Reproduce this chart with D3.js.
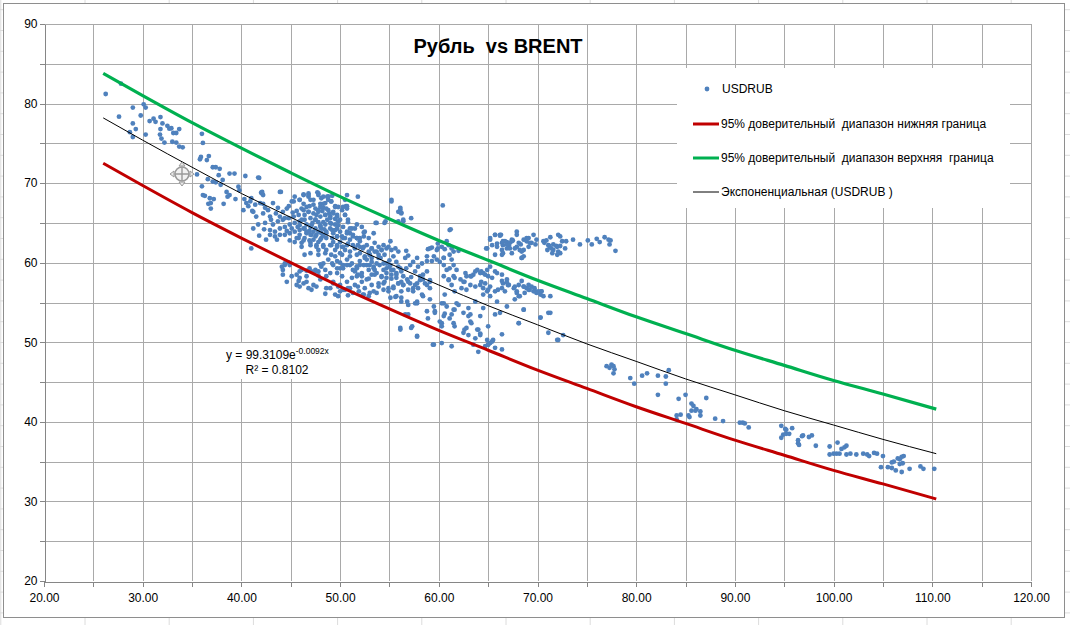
<!DOCTYPE html>
<html><head><meta charset="utf-8">
<script src="https://cdn.jsdelivr.net/npm/d3@7"></script>
<style>
html,body{margin:0;padding:0;background:#fff;}
svg{display:block;}
text{font-family:"Liberation Sans",Arial,sans-serif;fill:#000;white-space:pre;}
</style></head><body>
<svg id="chart" width="1070" height="625"></svg>
<script>
const chartTitle = "Рубль  vs BRENT";
const seriesNames = ["USDRUB", "95% доверительный  диапазон нижняя граница", "95% доверительный  диапазон верхняя  граница", "Экспоненциальная (USDRUB )"];
const xTickValues = [20, 30, 40, 50, 60, 70, 80, 90, 100, 110, 120];
const xTickLabels = ["20.00", "30.00", "40.00", "50.00", "60.00", "70.00", "80.00", "90.00", "100.00", "110.00", "120.00"];
const yTickValues = [20, 30, 40, 50, 60, 70, 80, 90];
const yTickLabels = ["20", "30", "40", "50", "60", "70", "80", "90"];
const gridStep = 5;

// band / trend series (BRENT -> USDRUB)
const lineBrent  = [26, 30, 35, 40, 45, 50, 55, 60, 65, 70, 75, 80, 85, 90, 95, 100, 105, 110.4];
const lowerBound = [72.5, 69.7, 66.3, 63.1, 60.0, 57.0, 54.2, 51.5, 49.0, 46.5, 44.2, 41.9, 39.8, 37.7, 35.8, 33.9, 32.2, 30.3];
const upperBound = [83.8, 81.0, 77.6, 74.4, 71.3, 68.3, 65.5, 62.8, 60.3, 57.8, 55.5, 53.2, 51.1, 49.0, 47.1, 45.2, 43.5, 41.6];
const trendLine  = [78.2, 75.4, 72.0, 68.7, 65.7, 62.7, 59.9, 57.2, 54.6, 52.2, 49.8, 47.6, 45.4, 43.4, 41.4, 39.6, 37.8, 36.0];
const trendEquation = "y = 99.3109e";
const trendExponent = "-0.0092x";
const trendR2 = "R² = 0.8102";

// USDRUB vs BRENT points
const ptsEarly = [[26.25,81.2],[27.8,82.5],[27.6,78.35],[29.0,79.5],[30.1,79.9],[30.3,79.5],[29.8,78.5],[29.0,77.5],[29.3,76.8],[28.7,76.4],[29.0,75.8],[30.7,77.8],[31.1,78.1],[31.3,77.7],[31.8,78.3],[32.0,77.5],[30.3,76.1],[31.8,76.8],[31.75,76.1],[31.9,75.6],[32.5,77.2],[32.7,76.85],[32.9,76.9],[33.4,76.3],[33.7,76.8],[33.1,76.3],[33.0,75.2],[33.4,75.1],[33.7,74.6],[34.05,74.5],[32.2,75.1],[36.0,76.2],[36.1,75.05],[35.9,73.3],[35.8,73.0],[36.5,72.9],[36.7,73.4],[37.1,72.0],[37.4,72.0],[37.8,71.8],[38.8,71.2],[39.3,71.2],[40.4,70.9],[41.8,70.65],[36.6,70.5],[37.1,70.2],[37.4,70.1],[37.9,69.8],[36.0,69.6],[36.3,68.4],[36.65,67.4],[36.1,68.5],[38.5,68.9],[38.6,68.3],[38.8,68.5],[39.7,69.55],[39.8,69.1],[39.4,68.0],[38.2,67.4],[36.8,68.1],[37.2,68.0],[40.3,68.0],[40.5,67.5],[40.7,67.1],[40.2,66.6],[41.1,66.5],[42.0,68.8],[42.2,67.4],[44.0,68.9],[46.3,68.6],[46.8,68.5],[47.7,68.85],[48.7,68.3],[49.2,68.4],[50.6,67.1],[51.8,68.3],[53.6,65.0],[54.5,65.0],[35.5,71.1],[36.9,67.5],[36.9,66.8],[37.7,71.0],[38.1,70.4]];
const ptsUpperCluster = [[41.7,70.7],[42.1,68.7],[41.0,68.1],[40.9,67.7],[41.4,67.3],[41.9,67.5],[42.4,66.9],[41.2,66.4],[41.5,65.8],[42.2,66.2],[42.7,66.6],[42.9,65.8],[42.4,65.0],[41.7,64.8],[41.2,64.3],[41.0,61.8],[43.2,67.5],[43.7,66.9],[44.2,66.4],[44.8,67.1],[45.1,67.7],[45.4,68.3],[45.9,67.9],[47.0,67.9],[47.3,67.3],[47.8,68.7],[48.1,68.1],[48.5,67.5],[48.8,68.3],[49.1,67.7],[49.5,67.1],[48.8,66.6],[48.3,66.9],[47.8,66.4],[47.3,66.2],[46.8,66.4],[46.3,66.6],[45.8,66.0],[45.3,65.8],[44.8,65.6],[44.2,65.4],[43.7,65.2],[43.2,64.8],[42.9,64.1],[43.4,63.9],[43.9,64.3],[44.4,64.5],[44.9,64.8],[45.4,65.0],[45.9,65.2],[46.4,65.4],[47.0,65.6],[47.5,65.4],[48.0,65.8],[48.5,66.0],[49.0,65.8],[49.3,66.2],[49.7,65.8],[49.8,65.2],[49.5,64.8],[49.0,65.0],[48.5,64.8],[48.0,64.5],[47.5,64.3],[47.0,64.5],[46.4,64.3],[45.9,64.1],[45.4,63.9],[44.9,63.7],[44.4,63.5],[43.9,63.5],[43.4,63.3],[42.9,63.5],[46.6,63.7],[47.1,63.5],[47.6,63.5],[48.1,63.7],[48.6,63.9],[49.2,64.1],[49.7,64.3],[50.0,63.9],[50.3,64.5],[50.7,63.9],[50.2,63.3],[49.7,63.3],[49.2,63.1],[48.6,63.1],[48.0,62.9],[47.3,62.9],[46.4,63.1],[45.8,63.1],[50.5,63.1],[51.0,62.9],[50.7,62.2],[50.2,62.0],[49.7,62.2],[49.0,62.2],[48.3,62.2],[47.6,62.2],[47.0,62.5],[46.1,62.5],[51.3,63.5],[51.7,63.1],[52.0,62.7],[52.4,63.3],[52.5,63.9],[52.2,64.5],[51.7,64.8],[51.2,64.3],[50.8,65.4],[50.5,66.0],[50.2,66.6],[50.7,67.1],[50.7,68.5],[51.0,63.7],[52.7,62.2],[53.2,61.8],[52.9,61.4],[52.4,62.0],[51.5,61.8],[51.0,61.4],[50.5,61.6],[50.0,61.2],[49.5,61.6],[48.6,61.6],[47.8,61.6],[52.0,61.2],[52.5,60.8],[53.0,61.0],[53.5,61.4],[53.7,65.0],[54.6,65.2],[55.2,67.9],[56.1,66.9],[56.4,65.4],[56.2,66.2],[55.9,66.4],[53.5,62.5],[53.9,62.0],[54.2,61.6],[54.7,61.8],[54.4,62.2],[55.1,62.7],[55.2,61.6],
[45.9,67.9],[46.3,67.4],[46.6,67.0],[46.8,66.4],[46.4,66.0],[46.1,65.4],[45.9,64.7],[46.3,64.3],[46.6,63.9],[45.9,63.5],[45.6,63.1],[46.3,62.8],[47.0,63.5],[47.3,63.9],[47.1,64.7],[47.5,65.4],[47.6,66.0],[47.8,66.6],[48.0,67.0],[48.3,67.4],[48.8,67.9],[48.6,66.8],[48.5,66.0],[48.3,65.1],[48.0,64.7],[48.1,64.3],[47.8,63.9],[47.5,63.3],[47.8,62.6],[48.1,63.1],[48.6,63.7],[49.0,64.3],[49.1,64.9],[49.0,65.6],[49.3,66.4],[49.5,67.0],[49.7,66.0],[50.0,65.4],[49.8,64.7],[49.5,64.1],[49.7,63.3],[49.3,62.6],[50.0,62.6],[50.3,63.1],[50.7,63.7],[51.0,64.3],[50.8,65.1],[50.5,66.0],[50.7,66.8],[51.3,63.3],[51.7,63.1],[51.5,64.3],[51.8,62.2],[51.3,62.2],[50.8,62.4],[50.3,62.0],[49.7,62.0],[49.1,62.2],[48.3,62.0],[47.6,62.0],[47.0,62.2],[46.1,62.0],[45.4,62.6],[44.9,62.8],[44.4,65.6],[43.9,65.8],[46.3,68.5],[46.8,68.7],[47.3,67.9],[47.8,68.5],[48.0,67.4],[48.3,68.3],[48.8,68.3],[49.1,67.7],[49.8,67.0],[50.3,67.0],[50.5,67.9],[42.2,68.5],[42.1,68.9],[43.9,68.9],[46.8,68.3],[45.3,67.7],[46.4,61.0],[47.0,61.2],[47.8,61.0],[48.5,61.2],[49.1,61.0],
[45.6,66.5],[46.1,66.8],[46.9,67.1],[47.5,66.8],[48.2,66.5],[48.9,66.2],[49.5,65.5],[48.7,65.4],[47.8,65.1],[47.2,65.0],[46.6,64.8],[45.7,64.5],[45.1,64.3],[44.6,64.0],[46.9,64.0],[48.4,64.2],[49.3,63.7],[48.3,63.4],[46.9,62.8],[45.2,66.3],[44.6,66.8],[43.5,66.2],[43.0,65.4],[42.3,64.2],[41.8,63.4],[42.5,62.9],[43.6,62.9]];
const ptsLowerBand = [[44.1,59.5],[44.2,59.1],[44.4,59.9],[44.9,59.7],[45.9,58.1],[46.3,57.4],[46.8,56.8],[47.1,58.9],[47.5,59.1],[47.8,58.9],[48.1,59.5],[48.3,59.9],[48.8,60.4],[49.2,59.9],[49.7,60.2],[50.0,59.3],[50.3,59.7],[50.7,60.4],[51.0,59.7],[51.3,59.1],[51.7,59.5],[52.0,60.2],[52.4,59.7],[52.7,60.4],[53.0,59.7],[53.4,59.3],[53.7,59.9],[54.1,60.6],[54.4,59.9],[54.7,59.3],[55.1,59.7],[55.4,59.1],[55.7,58.7],[56.1,59.3],[56.4,58.3],[56.8,57.9],[57.1,57.4],[57.4,56.8],[57.8,57.4],[58.1,58.3],[58.4,57.9],[58.8,57.2],[59.1,57.6],[49.3,57.4],[49.8,57.0],[50.3,56.6],[50.8,56.8],[51.3,56.2],[51.9,56.4],[52.4,56.0],[52.9,55.8],[53.4,56.4],[53.9,57.0],[54.4,57.4],[54.9,56.8],[55.4,57.0],[55.9,57.4],[56.4,57.2],[49.0,56.8],[49.5,56.0],[49.8,55.8],[50.7,57.6],[51.2,58.1],[51.7,58.3],[52.2,58.3],[52.7,57.9],[53.2,58.5],[53.7,58.7],[54.2,58.3],[54.7,58.1],[55.2,58.5],[55.7,58.1],[56.2,57.6],[49.7,58.7],[50.2,58.3],[48.6,58.3],[48.0,57.9],[47.6,57.0],[47.1,56.6],[46.6,58.3],[46.1,59.1],[45.6,58.5],[45.1,58.3],[44.6,57.6],[49.5,60.8],[50.2,61.0],[51.0,60.8],[51.7,61.0],[53.2,60.6],[53.9,61.0],
[45.9,58.9],[45.6,57.2],[45.8,57.7],[46.6,59.0],[46.9,59.3],[47.5,58.9],[47.8,58.4],[48.0,59.8],[48.5,59.1],[49.0,58.7],[49.3,59.7],[49.7,59.3],[50.0,60.0],[50.3,59.3],[50.7,59.7],[51.2,59.9],[51.5,58.9],[51.7,59.5],[49.3,57.6],[50.0,57.2],[50.5,56.6],[51.0,56.8],[51.5,57.2],[50.0,56.4],[50.8,55.9],[48.6,56.8],[48.5,56.1],[47.3,57.2],[46.6,57.6],[45.9,57.0],[44.4,59.7],[44.2,58.5],[44.8,60.0]];
const ptsMidCluster = [[52.0,62.0],[52.3,61.8],[53.2,61.8],[53.7,61.4],[54.2,61.6],[54.9,62.0],[54.5,61.0],[53.9,60.6],[53.2,60.1],[52.5,60.6],[52.0,59.7],[51.7,59.3],[52.2,58.7],[52.9,59.1],[53.4,59.5],[54.0,59.7],[54.7,59.9],[55.0,60.3],[55.4,60.8],[55.7,60.1],[55.9,59.5],[55.2,59.1],[54.7,58.7],[54.2,58.2],[53.5,58.5],[52.9,58.0],[52.2,57.6],[51.8,57.0],[52.5,56.8],[53.2,57.2],[53.9,57.4],[54.5,57.6],[55.2,58.0],[55.7,58.5],[56.2,58.9],[56.7,59.3],[57.1,59.7],[57.4,60.1],[57.9,59.5],[57.6,58.9],[57.2,58.2],[56.9,57.6],[56.4,57.2],[55.9,57.4],[55.4,56.8],[54.9,56.4],[54.4,56.6],[53.7,56.2],[53.0,56.2],[52.3,56.0],[55.6,55.7],[56.2,56.4],[56.9,56.6],[57.6,57.2],[58.1,57.8],[58.4,58.5],[58.8,58.9],[58.3,59.9],[57.8,60.6],[55.9,61.4],[56.6,60.6],[55.0,59.5],[54.4,59.1],[53.5,59.1],[52.7,59.7],[51.8,58.5],[57.4,56.4],[57.9,56.8],[58.6,57.4],[59.1,57.8],[59.1,56.8],[58.3,56.0],[57.8,55.1],[56.9,54.7],[56.2,55.1],[53.0,61.0],[55.6,61.8],[51.7,63.1],[52.0,63.1],[52.4,63.8],[52.9,63.1],[53.4,63.7],
[55.2,67.7],[56.1,66.7],[56.2,66.3],[57.2,65.6],[60.4,67.2],[56.4,65.2],[55.9,65.2],[56.7,61.5],[56.9,60.9],[58.9,61.7],[59.3,61.9],[59.9,62.4],[59.9,61.8],[60.6,61.7],[60.5,60.6],[58.8,60.2],[59.3,60.2],[60.1,60.1],[62.0,61.5]];
const ptsLow = [[55.1,55.6],[55.7,55.8],[56.2,55.6],[56.8,55.1],[57.6,54.9],[58.4,55.8],[59.1,55.4],[59.5,54.5],[60.3,54.9],[60.8,54.5],[61.5,54.1],[59.6,53.7],[60.5,53.3],[61.1,53.0],[60.3,52.4],[61.5,52.4],[62.5,53.7],[63.0,53.3],[61.8,54.9],[64.5,56.0],[65.2,55.8],[65.9,55.1],[64.5,54.3],[64.2,53.3],[63.2,52.6],[62.8,51.8],[62.5,51.2],[63.9,51.6],[64.2,50.9],[64.9,50.3],[65.0,49.7],[65.2,49.9],[65.5,50.3],[64.7,49.5],[59.5,49.7],[60.3,49.9],[57.8,50.8],[57.3,52.0],[56.1,51.8],
[57.8,54.9],[58.8,53.9],[59.6,53.9],[58.9,53.0],[56.9,53.5],[56.6,53.5],[60.6,53.6],[61.3,53.5],[61.6,54.1],[62.0,54.7],[63.0,54.3],[63.7,55.1],[63.2,53.5],[63.3,52.4],[62.6,51.6],[63.0,50.9],[64.0,51.6],[64.2,51.1],[63.7,50.5],[65.4,50.1],[65.0,49.7],[65.7,49.3],[66.4,49.1],[60.1,52.6],[60.3,52.0],[61.6,52.0],[57.8,50.7],[57.2,51.8],[56.1,51.6],[59.4,49.7],[61.3,49.5],[63.5,49.7],[64.0,48.8]];
const ptsRightBand = [[59.1,61.8],[58.8,60.8],[59.5,60.8],[59.8,61.6],[60.3,62.0],[60.8,62.7],[61.0,62.2],[61.1,64.1],[61.3,61.8],[61.5,61.4],[60.5,60.6],[59.8,60.4],[61.1,61.0],[61.3,60.4],[60.8,59.1],[60.5,58.3],[61.5,58.3],[61.0,57.9],[61.8,59.1],[62.2,57.9],[62.5,57.6],[62.8,58.3],[63.2,58.3],[63.5,58.5],[63.9,59.1],[64.2,58.7],[64.5,58.7],[64.9,59.1],[65.0,58.3],[64.7,57.4],[64.2,57.2],[63.7,57.0],[63.2,57.2],[62.8,56.6],[64.5,56.8],[64.9,56.4],[65.2,57.0],[66.0,56.6],[66.5,57.4],[67.1,57.2],[67.6,56.8],[68.1,57.2],[68.6,57.0],[69.1,56.6],[69.4,57.0],[69.8,56.4],[69.9,56.2],[70.4,56.4],[70.6,55.8],[67.9,56.2],[66.9,57.9],[65.9,58.7],[65.2,59.5],[65.2,62.9],[65.7,63.5],[66.2,63.5],[66.5,62.7],[67.1,62.2],[67.4,62.7],[67.9,62.0],[68.2,61.6],[68.6,62.9],[68.9,63.1],[69.4,62.5],[69.9,62.9],[70.6,62.7],[71.1,62.2],[71.6,61.6],[72.0,62.0],[72.5,62.7],[72.8,61.8],[71.0,61.6],[71.5,61.2],[72.1,61.4],[67.9,63.9],[69.6,63.5],[65.9,62.0],[66.4,61.6],[66.9,61.8],[67.4,61.2],[68.4,60.6],[68.6,61.6],[69.1,62.0],[65.7,61.0],[64.9,61.8],[71.3,55.8],[71.1,53.7],[70.3,53.1],[68.6,54.1],[68.1,52.4],[66.2,53.7],[65.7,53.5],[66.9,54.5],[65.0,52.0],[72.0,50.3],[72.6,50.9],
[63.7,58.9],[64.3,58.9],[64.7,58.5],[63.3,58.3],[62.6,57.6],[61.6,58.1],[61.3,57.2],[62.3,56.8],[61.6,56.4],[65.0,56.6],[65.7,56.4],[66.4,56.8],[67.0,57.2],[64.3,57.6],[66.4,58.5],[65.7,58.9],[65.4,58.1],[62.7,58.7],[61.0,57.8],[60.5,59.7],[61.1,59.3],[61.5,59.7],[60.6,56.0],[60.5,54.9],
[65.2,63.1],[65.7,63.5],[66.2,63.4],[66.5,62.2],[66.9,62.6],[67.2,61.8],[66.4,61.0],[67.4,62.9],[64.8,61.8],[65.4,62.2],[65.9,62.4],[61.2,64.2],
[66.4,62.5],[66.7,62.7],[66.9,62.3],[67.2,62.5],[67.5,62.8],[67.7,61.8],[68.1,62.5],[68.3,62.3],[68.4,61.4],[68.6,60.8],[68.4,60.6],[68.9,62.7],[69.1,63.1],[69.2,62.5],[69.8,62.3],[70.7,62.5],[70.9,62.8],[71.3,63.2],[71.2,62.1],[71.4,61.8],[71.6,62.3],[71.9,62.1],[72.3,62.1],[72.1,63.5],[72.3,61.2],[72.0,61.0],[72.9,62.7],[73.6,62.9],[74.3,62.3],[75.1,62.8],[75.5,62.3],[76.0,63.0],[76.3,62.6],[76.8,63.2],[77.2,62.9],[77.3,62.3],[77.9,61.5],[66.5,61.2],[66.3,63.5],[67.9,63.5],[72.3,63.3],[77.4,62.8],
[66.4,57.7],[66.9,57.5],[66.7,56.4],[67.7,57.0],[67.9,56.4],[68.1,55.8],[68.4,57.7],[68.6,57.0],[68.7,56.2],[68.9,56.8],[69.1,57.2],[69.2,56.6],[69.6,56.4],[69.7,56.8],[70.1,56.4],[70.3,56.0],[70.4,56.4],[68.2,55.8],[67.7,55.4],[68.6,54.1],[68.1,52.4],[70.3,53.1],[71.3,53.7],[66.4,51.0],[71.1,51.2],[72.1,50.3]];
const ptsTail = [[77.0,47.0],[77.3,46.8],[77.5,47.2],[77.7,47.0],[77.8,46.6],[77.7,46.1],[79.4,45.5],[79.8,44.8],[80.6,45.8],[81.1,46.1],[82.2,45.8],[83.0,45.7],[83.3,46.5],[83.0,44.8],[82.2,43.4],[84.3,42.9],[85.0,43.4],[85.6,42.3],[85.8,42.0],[86.1,41.6],[85.6,41.4],[86.0,41.4],[86.5,41.3],[86.5,40.8],[87.1,43.0],[84.1,40.8],[84.5,40.9],[85.3,40.8],[85.4,40.6],[84.1,40.3],[88.0,40.4],[88.8,40.1],[90.5,39.9],[90.8,39.9],[91.0,39.8],[91.4,39.3],[94.7,39.5],[95.1,39.1],[95.8,39.2],
[95.2,39.0],[94.9,38.4],[95.2,38.5],[95.5,38.5],[94.7,38.0],[96.4,37.7],[96.4,37.3],[96.5,37.1],[96.8,38.2],[96.9,38.3],[97.5,38.1],[97.8,38.3],[98.2,37.0],[99.6,36.9],[99.6,35.9],[100.0,36.0],[100.4,37.4],[100.3,36.0],[100.6,36.0],[100.8,36.6],[101.1,36.8],[101.3,37.0],[101.3,35.9],[101.7,36.0],[102.3,35.9],[103.0,36.0],[103.4,35.9],[103.6,35.7],[104.1,36.1],[104.4,36.0],[105.0,35.7],[104.8,34.3],[105.5,34.3],[105.9,34.2],[106.3,33.9],[106.9,33.7],[105.9,34.9],[106.1,35.0],[106.5,35.4],[106.7,35.3],[106.9,35.6],[107.1,35.7],[106.7,34.7],[107.0,34.8],[107.7,34.1],[108.8,34.4],[109.1,34.1],[110.2,34.1]];

const usdrubPoints = [].concat(ptsEarly, ptsUpperCluster, ptsLowerBand, ptsMidCluster, ptsLow, ptsRightBand, ptsTail);

const colors = {dots:"#4f81bd", lower:"#c00000", upper:"#00b050", trend:"#000000", grid:"#a9a9a9", axis:"#868686"};

const W = 1070, H = 625;
const svg = d3.select("#chart");

// spreadsheet cells behind the chart
const sheet = svg.append("g");
for (let yy = 9.7; yy < H; yy += 20.8) sheet.append("line").attr("x1",0).attr("x2",W).attr("y1",yy).attr("y2",yy).attr("stroke","#dcdcdc");
for (let xx = 0.8; xx < W; xx += 84.2) sheet.append("line").attr("x1",xx).attr("x2",xx).attr("y1",0).attr("y2",H).attr("stroke","#dcdcdc");

// chart area
svg.append("rect").attr("x",3.5).attr("y",3.5).attr("width",1061).attr("height",614)
  .attr("fill","#fff").attr("stroke","#8e8e8e");

const x = d3.scaleLinear().domain([20,120]).range([44,1031]);
const y = d3.scaleLinear().domain([20,90]).range([581,24]);

// grid lines every 5
const xGrid = d3.range(xTickValues[0], xTickValues[xTickValues.length-1] + 0.01, gridStep);
const yGrid = d3.range(yTickValues[0], yTickValues[yTickValues.length-1] + 0.01, gridStep);
const grid = svg.append("g").attr("shape-rendering","crispEdges");
grid.selectAll(".vg").data(xGrid.slice(1)).enter().append("line")
  .attr("x1",d=>Math.round(x(d))+0.5).attr("x2",d=>Math.round(x(d))+0.5)
  .attr("y1",y(90)).attr("y2",y(20)).attr("stroke",colors.grid);
grid.selectAll(".hg").data(yGrid.slice(1)).enter().append("line")
  .attr("y1",d=>Math.round(y(d))+0.5).attr("y2",d=>Math.round(y(d))+0.5)
  .attr("x1",x(20)).attr("x2",x(120)).attr("stroke",colors.grid);

// axes
const xAxis = d3.axisBottom(x).tickValues(xGrid).tickSize(5).tickSizeOuter(0)
  .tickFormat(d => { const i = xTickValues.indexOf(d); return i >= 0 ? xTickLabels[i] : ""; });
const gx = svg.append("g").attr("transform",`translate(0,${Math.round(y(20))+0.5})`).call(xAxis);
const yAxis = d3.axisLeft(y).tickValues(yGrid).tickSize(5).tickSizeOuter(0)
  .tickFormat(d => { const i = yTickValues.indexOf(d); return i >= 0 ? yTickLabels[i] : ""; });
const gy = svg.append("g").attr("transform",`translate(${Math.round(x(20))+0.5},0)`).call(yAxis);
[gx,gy].forEach(g => {
  g.select(".domain").attr("stroke",colors.axis).attr("shape-rendering","crispEdges");
  g.selectAll(".tick line").attr("stroke",colors.axis).attr("shape-rendering","crispEdges");
  g.selectAll(".tick text").attr("font-family","Liberation Sans, Arial, sans-serif").attr("font-size",12).attr("fill","#000");
});
gx.selectAll(".tick text").attr("dy","1.05em");
gy.selectAll(".tick text").attr("x",-7);

// scatter
svg.append("g").selectAll("circle").data(usdrubPoints).enter().append("circle")
  .attr("cx",d=>x(d[0])).attr("cy",d=>y(d[1])).attr("r",2.4).attr("fill",colors.dots);

// lines
const lineGen = vals => d3.line().x((d,i)=>x(lineBrent[i])).y(d=>y(d)).curve(d3.curveMonotoneX)(vals);
svg.append("path").attr("d",lineGen(lowerBound)).attr("fill","none").attr("stroke",colors.lower).attr("stroke-width",3);
svg.append("path").attr("d",lineGen(upperBound)).attr("fill","none").attr("stroke",colors.upper).attr("stroke-width",3.2);
svg.append("path").attr("d",lineGen(trendLine)).attr("fill","none").attr("stroke",colors.trend).attr("stroke-width",1);

// trendline label
const eq = svg.append("g");
eq.append("rect").attr("x",222).attr("y",343).attr("width",121).attr("height",36).attr("fill","#fff");
const eqT = eq.append("text").attr("x",226).attr("y",359).attr("font-size",12);
eqT.append("tspan").text(trendEquation);
eqT.append("tspan").attr("font-size",8.5).attr("dy",-5).text(trendExponent);
eq.append("text").attr("x",277).attr("y",374).attr("font-size",12).attr("text-anchor","middle").text(trendR2);

// legend
const lg = svg.append("g");
lg.append("rect").attr("x",677).attr("y",68).attr("width",333).attr("height",140).attr("fill","#fff");
const legendY = [89, 124, 158, 192];
const legendKinds = ["dot","lower","upper","trend"];
legendKinds.forEach((k,i) => {
  const ly = legendY[i];
  if (k === "dot") lg.append("circle").attr("cx",707).attr("cy",ly).attr("r",2.4).attr("fill",colors.dots);
  else lg.append("line").attr("x1",693).attr("x2",719).attr("y1",ly).attr("y2",ly)
        .attr("stroke",colors[k]).attr("stroke-width",k==="trend"?1:3);
  lg.append("text").attr("x", k==="dot"?722:721).attr("y",ly+4).attr("font-size",12).text(seriesNames[i]);
});

// title
svg.append("text").attr("x",498).attr("y",53).attr("text-anchor","middle")
  .attr("font-size",20).attr("font-weight","bold").text(chartTitle);

// mouse "move" cursor over the plot
const cur = svg.append("g").attr("transform","translate(182,174)").attr("stroke","#9a9a9a").attr("fill","#e8e8e8");
cur.append("path").attr("d","M0,-12 L-3,-8 L3,-8 Z M0,12 L-3,8 L3,8 Z M-12,0 L-8,-3 L-8,3 Z M12,0 L8,-3 L8,3 Z").attr("stroke-width",1);
cur.append("circle").attr("r",7).attr("stroke-width",1.6).attr("fill","#f2f2f2");
cur.append("path").attr("d","M0,-7 V7 M-7,0 H7").attr("stroke-width",1.4).attr("fill","none");
</script>
</body></html>
